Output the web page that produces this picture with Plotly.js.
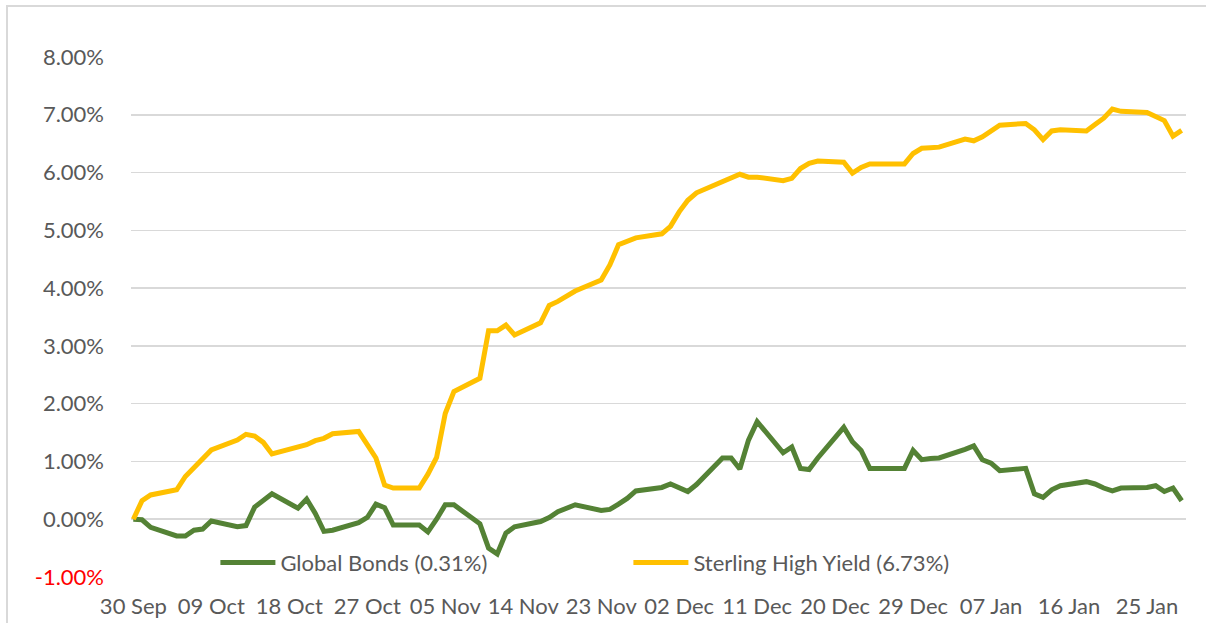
<!DOCTYPE html>
<html>
<head>
<meta charset="utf-8">
<script src="https://cdn.plot.ly/plotly-3.0.1.min.js"></script>
<style>
  html, body { margin: 0; padding: 0; background: #fff; }
  #wrap { position: relative; width: 1206px; height: 623px; overflow: hidden; }
  #chart { width: 1206px; height: 623px; }
  #frame { position: absolute; left: 6px; top: 5px; width: 1300px; height: 700px;
           border-top: 2px solid #D9D9D9; border-left: 2px solid #D9D9D9; pointer-events: none; }
</style>
</head>
<body>
<div id="wrap">
  <div id="chart"></div>
  <div id="frame"></div>
</div>
<script>
const dates = [
  '2020-09-30','2020-10-01','2020-10-02','2020-10-05','2020-10-06','2020-10-07','2020-10-08','2020-10-09',
  '2020-10-12','2020-10-13','2020-10-14','2020-10-15','2020-10-16','2020-10-19','2020-10-20','2020-10-21',
  '2020-10-22','2020-10-23','2020-10-26','2020-10-27','2020-10-28','2020-10-29','2020-10-30',
  '2020-11-02','2020-11-03','2020-11-04','2020-11-05','2020-11-06','2020-11-09','2020-11-10','2020-11-11',
  '2020-11-12','2020-11-13','2020-11-16','2020-11-17','2020-11-18','2020-11-19','2020-11-20','2020-11-23',
  '2020-11-24','2020-11-25','2020-11-26','2020-11-27','2020-11-30',
  '2020-12-01','2020-12-02','2020-12-03','2020-12-04','2020-12-07','2020-12-08','2020-12-09','2020-12-10',
  '2020-12-11','2020-12-14','2020-12-15','2020-12-16','2020-12-17','2020-12-18','2020-12-21','2020-12-22',
  '2020-12-23','2020-12-24','2020-12-25','2020-12-28','2020-12-29','2020-12-30','2020-12-31',
  '2021-01-01','2021-01-04','2021-01-05','2021-01-06','2021-01-07','2021-01-08','2021-01-11','2021-01-12',
  '2021-01-13','2021-01-14','2021-01-15','2021-01-18','2021-01-19','2021-01-20','2021-01-21','2021-01-22',
  '2021-01-25','2021-01-26','2021-01-27','2021-01-28','2021-01-29'
];

const globalBonds = [
  0.00,-0.01,-0.14,-0.29,-0.29,-0.19,-0.17,-0.03,
  -0.13,-0.11,0.21,0.33,0.44,0.19,0.35,0.10,
  -0.21,-0.19,-0.06,0.03,0.26,0.20,-0.10,
  -0.10,-0.22,0.00,0.25,0.25,-0.08,-0.50,-0.60,
  -0.24,-0.13,-0.04,0.03,0.13,0.20,0.25,0.15,
  0.17,0.26,0.36,0.49,0.55,
  0.61,0.55,0.48,0.60,1.06,1.06,0.87,1.37,
  1.69,1.15,1.25,0.88,0.86,1.06,1.59,1.34,
  1.19,0.88,0.88,0.88,1.19,1.03,1.05,
  1.06,1.21,1.27,1.03,0.97,0.84,0.88,0.44,
  0.38,0.51,0.58,0.65,0.61,0.54,0.49,0.54,
  0.55,0.58,0.48,0.54,0.32
];

const sterlingHighYield = [
  0.00,0.32,0.42,0.51,0.74,0.89,1.04,1.20,
  1.37,1.47,1.44,1.33,1.13,1.24,1.29,1.36,
  1.40,1.48,1.52,1.29,1.06,0.59,0.54,
  0.54,0.78,1.07,1.83,2.21,2.44,3.26,3.26,
  3.36,3.19,3.40,3.70,3.77,3.87,3.95,4.14,
  4.40,4.75,4.82,4.87,4.94,
  5.07,5.32,5.52,5.65,5.85,5.91,5.97,5.92,
  5.92,5.86,5.90,6.07,6.16,6.20,6.18,5.99,
  6.09,6.15,6.15,6.15,6.33,6.42,6.43,
  6.44,6.58,6.55,6.62,6.72,6.82,6.85,6.74,
  6.57,6.72,6.74,6.72,6.83,6.94,7.10,7.06,
  7.04,6.97,6.90,6.63,6.73
];

const seriesNames = ['Global Bonds (0.31%)', 'Sterling High Yield (6.73%)'];
const yTickValues = [-1, 0, 1, 2, 3, 4, 5, 6, 7, 8];
const yTickLabels = ['-1.00%','0.00%','1.00%','2.00%','3.00%','4.00%','5.00%','6.00%','7.00%','8.00%'];

const FONT = 'Lato, "Open Sans", "Liberation Sans", sans-serif';
const TXT = '#595959';
const FS = 22;

const traces = [
  { x: dates, y: globalBonds, name: seriesNames[0], type: 'scatter', mode: 'lines',
    line: { color: '#548235', width: 5, shape: 'linear' } },
  { x: dates, y: sterlingHighYield, name: seriesNames[1], type: 'scatter', mode: 'lines',
    line: { color: '#FFC000', width: 5, shape: 'linear' } }
];

const layout = {
  width: 1206, height: 623,
  margin: { l: 131, r: 20, t: 57, b: 46, pad: 0 },
  paper_bgcolor: '#ffffff', plot_bgcolor: '#ffffff',
  font: { family: FONT, size: FS, color: TXT },
  showlegend: true,
  legend: {
    orientation: 'h', x: 0.08, xanchor: 'left', y: 0.0275, yanchor: 'middle',
    bgcolor: 'rgba(0,0,0,0)', font: { family: FONT, size: FS, color: TXT },
    itemwidth: 55,
    entrywidth: 343, entrywidthmode: 'pixels', traceorder: 'normal'
  },
  xaxis: {
    type: 'date',
    range: ['2020-09-29 17:30', '2021-01-29 12:00'],
    tick0: '2020-09-30', dtick: 9 * 86400000, tickformat: '%d %b',
    showgrid: false, zeroline: false, showline: false, ticks: '',
    tickfont: { family: FONT, size: FS, color: TXT },
    ticklabelstandoff: 14
  },
  yaxis: {
    range: [-1, 8], tickmode: 'array', tickvals: yTickValues,
    ticktext: yTickLabels.map(t => t.startsWith('-') ? '<span style="color:#FF0000">' + t + '</span>' : t),
    showgrid: true, gridcolor: '#D9D9D9', gridwidth: 1.5,
    zeroline: false, showline: false, ticks: '',
    tickfont: { family: FONT, size: FS, color: TXT },
    ticklabelstandoff: 26
  }
};

Plotly.newPlot('chart', traces, layout, { displayModeBar: false, staticPlot: true });
</script>
</body>
</html>
